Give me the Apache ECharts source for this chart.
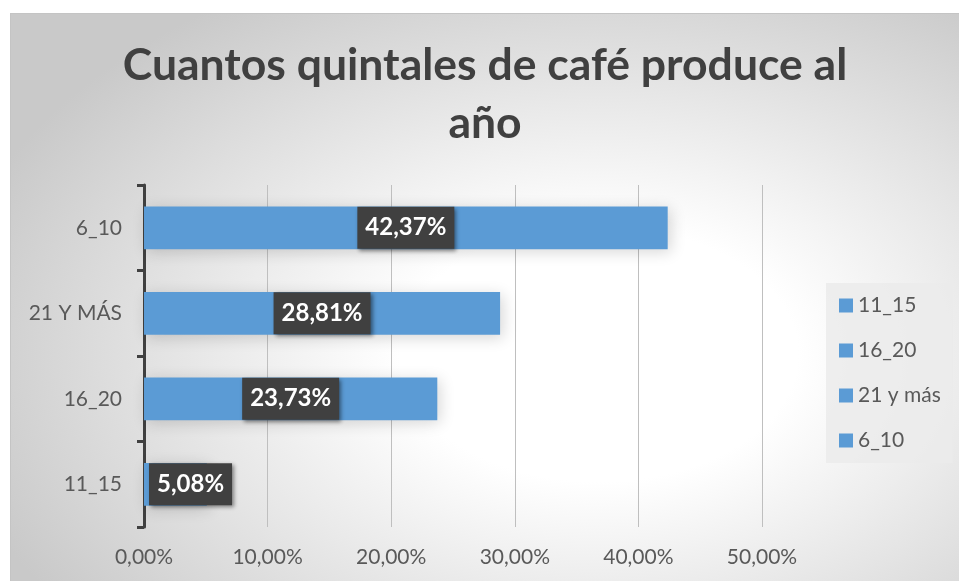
<!DOCTYPE html>
<html>
<head>
<meta charset="utf-8">
<script src="https://cdn.jsdelivr.net/npm/echarts@6/dist/echarts.min.js"></script>
<style>
  html, body { margin: 0; padding: 0; background: #ffffff; }
  #chart {
    position: absolute;
    left: 10px;
    top: 13px;
    width: 949px;
    height: 568px;
    border-top: 1px solid #c4c4c4;
    border-left: 1px solid #c4c4c4;
    box-sizing: border-box;
    background: radial-gradient(ellipse 70% 75% at 62% 60%, #ffffff 0%, #ffffff 30%, #c9c9c9 100%);
  }
</style>
</head>
<body>
<div id="chart"></div>
<script>
  const titleText = "Cuantos quintales de café produce al\naño";
  const categories = ["11_15", "16_20", "21 Y MÁS", "6_10"];
  const legendNames = ["11_15", "16_20", "21 y más", "6_10"];
  const values = [5.08, 23.73, 28.81, 42.37];
  const xTicks = [0, 10, 20, 30, 40, 50];

  const barColor = "#5B9BD5";
  const font = "Lato, 'Open Sans', sans-serif";

  const chart = echarts.init(document.getElementById("chart"), null, { renderer: "canvas" });

  const series = legendNames.map((name, idx) => ({
    name,
    type: "bar",
    stack: "total",
    barWidth: "50%",
    data: values.map((v, j) => (j === idx ? v : "-")),
    itemStyle: {
      color: barColor,
      shadowBlur: 14,
      shadowColor: "rgba(0, 0, 0, 0.16)",
      shadowOffsetX: 3,
      shadowOffsetY: 3,
    },
    label: {
      show: true,
      position: idx === 0 ? "insideLeft" : "inside",
      distance: 5,
      formatter: (p) => p.value.toFixed(2).replace(".", ",") + "%",
      color: "#ffffff",
      fontFamily: font,
      fontWeight: "bold",
      fontSize: 24,
      lineHeight: 24,
      backgroundColor: "#404040",
      padding: [9, 8, 9, 8],
      shadowBlur: 4,
      shadowColor: "rgba(0, 0, 0, 0.45)",
      shadowOffsetX: 2,
      shadowOffsetY: 2,
    },
    emphasis: { disabled: true },
  }));

  const option = {
    animation: false,
    backgroundColor: "transparent",
    title: {
      text: titleText,
      left: "center",
      top: 18,
      textStyle: {
        color: "#404040",
        fontFamily: font,
        fontWeight: "bold",
        fontSize: 44.5,
        lineHeight: 58,
      },
    },
    legend: {
      orient: "vertical",
      left: 815,
      top: 269,
      data: legendNames,
      icon: "rect",
      itemWidth: 14,
      itemHeight: 14,
      itemGap: 24,
      padding: [12, 12, 12, 13],
      backgroundColor: "rgba(235, 235, 235, 0.85)",
      textStyle: {
        color: "#595959",
        fontFamily: font,
        fontSize: 21,
      },
    },
    grid: {
      left: 133,
      right: 197,
      top: 171,
      bottom: 54,
      containLabel: false,
    },
    xAxis: {
      type: "value",
      min: xTicks[0],
      max: xTicks[xTicks.length - 1],
      interval: 10,
      axisLine: { show: false },
      axisTick: { show: false },
      axisLabel: {
        color: "#595959",
        fontFamily: font,
        fontSize: 21,
        margin: 20,
        formatter: (v) => v.toFixed(2).replace(".", ",") + "%",
      },
      splitLine: {
        lineStyle: { color: "#bfbfbf", width: 1 },
      },
    },
    yAxis: {
      type: "category",
      data: categories,
      axisLine: {
        show: true,
        lineStyle: { color: "#404040", width: 3 },
      },
      axisTick: {
        show: true,
        length: 7,
        lineStyle: { color: "#404040", width: 3 },
      },
      axisLabel: {
        color: "#595959",
        fontFamily: font,
        fontSize: 21,
        margin: 22,
      },
    },
    series,
  };

  chart.setOption(option);
</script>
</body>
</html>
